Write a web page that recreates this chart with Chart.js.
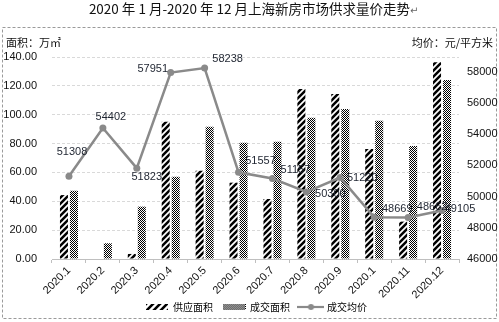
<!DOCTYPE html>
<html>
<head>
<meta charset="utf-8">
<script src="https://cdn.jsdelivr.net/npm/chart.js@4/dist/chart.umd.min.js"></script>
<style>
  html, body { margin: 0; padding: 0; background: #ffffff; }
  #wrap { width: 499px; height: 322px; }
</style>
</head>
<body>
<div id="wrap"><canvas id="c" width="499" height="322"></canvas></div>
<script>
// Months, area (10k m²) and average price (yuan per m²) for 2020
const months = ['2020.1', '2020.2', '2020.3', '2020.4', '2020.5', '2020.6',
                '2020.7', '2020.8', '2020.9', '2020.1', '2020.11', '2020.12'];
const supplyArea = [44.3, 0, 3.5, 95.2, 61.2, 52.9, 41.6, 117.8, 114.3, 76.2, 25.9, 136.3];
const dealArea   = [47.3, 10.9, 36.3, 57.0, 91.7, 80.6, 81.3, 97.9, 103.9, 95.8, 78.3, 124.0];
const avgPrice   = [51308, 54402, 51823, 57951, 58238, 51557, 51157, 50300, 51220, 48669, 48662, 49105];

// Axis ticks
const areaTicks  = [0, 20, 40, 60, 80, 100, 120, 140];
const priceTicks = [46000, 48000, 50000, 52000, 54000, 56000, 58000];

const seriesNames = ['供应面积', '成交面积', '成交均价'];
const titleText = '2020 年 1 月-2020 年 12 月上海新房市场供求量价走势';
const leftUnit = '面积：万㎡';
const rightUnit = '均价：元/平方米';

// Where each price label sits relative to its point (px)
const priceLabelOffsets = [[3, -24], [8, -11], [10, 9], [-18, -4], [23, -9], [22, -11],
                           [23, -9], [24, 2], [22, 0], [23, -8], [24, -11], [18, -2]];

const FONT = "'Liberation Sans', 'Noto Sans CJK SC', sans-serif";
const CJK = "'Noto Sans CJK SC', 'Liberation Sans', sans-serif";
const LINE_GREY = '#8a8a8a';

function makeHatch(period, width) {
  const c = document.createElement('canvas');
  c.width = period; c.height = period;
  const g = c.getContext('2d');
  g.fillStyle = '#ffffff';
  g.fillRect(0, 0, period, period);
  g.strokeStyle = '#000000';
  g.lineWidth = width;
  g.beginPath();
  g.moveTo(-2, period + 2); g.lineTo(period + 2, -2);
  g.moveTo(-2, 2); g.lineTo(2, -2);
  g.moveTo(period - 2, period + 2); g.lineTo(period + 2, period - 2);
  g.stroke();
  return c;
}
function makeChecker() {
  const c = document.createElement('canvas');
  c.width = 2; c.height = 2;
  const g = c.getContext('2d');
  g.fillStyle = '#ffffff';
  g.fillRect(0, 0, 2, 2);
  g.fillStyle = '#000000';
  g.fillRect(0, 0, 1, 1);
  g.fillRect(1, 1, 1, 1);
  return c;
}

const ctx = document.getElementById('c').getContext('2d');
const hatchPattern = ctx.createPattern(makeHatch(6, 2.5), 'repeat');
const checkerPattern = ctx.createPattern(makeChecker(), 'repeat');

// Legend swatches
function swatch(w, h, pattern) {
  const c = document.createElement('canvas');
  c.width = w; c.height = h;
  const g = c.getContext('2d');
  g.fillStyle = g.createPattern(pattern, 'repeat');
  g.fillRect(0, 0, w, h);
  return c;
}
function lineSwatch() {
  const c = document.createElement('canvas');
  c.width = 27; c.height = 8;
  const g = c.getContext('2d');
  g.strokeStyle = LINE_GREY;
  g.lineWidth = 2.2;
  g.beginPath(); g.moveTo(0, 4); g.lineTo(27, 4); g.stroke();
  g.fillStyle = LINE_GREY;
  g.beginPath(); g.arc(13.5, 4, 3, 0, Math.PI * 2); g.fill();
  return c;
}
const legendIcons = [swatch(22, 6, makeHatch(7, 2.6)), swatch(23, 6, makeChecker()), lineSwatch()];

// Title, unit captions and dashed frame; also widens the label clip areas
const framePlugin = {
  id: 'frame',
  afterLayout(chart) {
    chart.scales.x.bottom = chart.height;
    chart.scales.y.left = 0;
    chart.scales.y1.right = chart.width;
    if (chart.legend) { chart.legend.left += 7; chart.legend.right += 7; }
  },
  beforeDraw(chart) {
    const g = chart.ctx;
    g.save();
    g.fillStyle = '#ffffff';
    g.fillRect(0, 0, chart.width, chart.height);
    g.strokeStyle = '#9a9a9a';
    g.lineWidth = 1;
    g.setLineDash([3, 2]);
    g.strokeRect(2.5, 27.5, 494, 291);
    g.setLineDash([]);
    g.fillStyle = '#111111';
    g.textBaseline = 'middle';
    g.font = '13.5px ' + CJK;
    g.textAlign = 'center';
    g.fillText(titleText, 249.5, 9);
    const tw = g.measureText(titleText).width;
    g.font = '10px DejaVu Sans';
    g.fillStyle = '#666666';
    g.textAlign = 'left';
    g.fillText('↵', 249.5 + tw / 2, 11);
    g.fillStyle = '#111111';
    g.font = '11px ' + CJK;
    g.textAlign = 'left';
    g.fillText(leftUnit, 6, 42.5);
    g.textAlign = 'right';
    g.fillText(rightUnit, 493, 42.5);
    g.restore();
  }
};

// Value labels next to each price point
const priceLabelPlugin = {
  id: 'priceLabels',
  afterDatasetsDraw(chart) {
    const meta = chart.getDatasetMeta(2);
    const g = chart.ctx;
    g.save();
    g.font = '11px ' + FONT;
    g.fillStyle = '#1e2430';
    g.textAlign = 'center';
    g.textBaseline = 'middle';
    meta.data.forEach((pt, i) => {
      const [dx, dy] = priceLabelOffsets[i];
      g.fillText(String(avgPrice[i]), pt.x + dx, pt.y + dy);
    });
    g.restore();
  }
};

new Chart(ctx, {
  type: 'bar',
  data: {
    labels: months,
    datasets: [
      { label: seriesNames[0], data: supplyArea, backgroundColor: hatchPattern, borderWidth: 0,
        yAxisID: 'y', order: 1, categoryPercentage: 0.59, barPercentage: 0.8 },
      { label: seriesNames[1], data: dealArea, backgroundColor: checkerPattern, borderWidth: 0,
        yAxisID: 'y', order: 1, categoryPercentage: 0.59, barPercentage: 0.8 },
      { type: 'line', label: seriesNames[2], data: avgPrice, yAxisID: 'y1', order: 0,
        borderColor: LINE_GREY, backgroundColor: LINE_GREY, borderWidth: 2.5,
        pointRadius: 3.5, pointBackgroundColor: LINE_GREY, pointBorderWidth: 0,
        tension: 0, fill: false }
    ]
  },
  options: {
    responsive: false,
    animation: false,
    devicePixelRatio: 1,
    layout: { padding: { top: 57, left: 0, right: 0, bottom: 0 } },
    plugins: {
      title: { display: false },
      tooltip: { enabled: false },
      legend: {
        position: 'bottom',
        labels: {
          usePointStyle: true,
          pointStyleWidth: 22,
          boxHeight: 10,
          padding: 10,
          color: '#333333',
          font: { size: 10, family: CJK },
          generateLabels: chart => chart.data.datasets.map((ds, i) => ({
            text: ds.label, pointStyle: legendIcons[i], fillStyle: '#ffffff',
            strokeStyle: '#ffffff', lineWidth: 0, hidden: false, datasetIndex: i
          }))
        }
      }
    },
    scales: {
      x: {
        grid: { offset: true, drawOnChartArea: false, drawTicks: true, tickLength: 4, color: '#bfbfbf' },
        border: { display: true, color: '#bfbfbf', width: 1 },
        ticks: { minRotation: 45, maxRotation: 45, autoSkip: false, padding: 1,
                 color: '#111111', font: { size: 11, family: FONT } },
        afterFit: s => { s.height = 33; }
      },
      y: {
        position: 'left',
        min: areaTicks[0], max: areaTicks[areaTicks.length - 1],
        grid: { color: '#d9d9d9', drawTicks: false },
        border: { display: false, dash: [3, 2] },
        ticks: { autoSkip: false, padding: 15, color: '#111111', font: { size: 11, family: FONT },
                 callback: v => Number(v).toFixed(2) },
        afterBuildTicks: s => { s.ticks = areaTicks.map(v => ({ value: v })); },
        afterFit: s => { s.width = 52; }
      },
      y1: {
        position: 'right',
        min: 46000, max: 58950,
        grid: { display: false, drawTicks: false },
        border: { display: false },
        ticks: { autoSkip: false, padding: 8, color: '#111111',
                 font: { size: 11, family: FONT }, callback: v => String(v) },
        afterBuildTicks: s => { s.ticks = priceTicks.map(v => ({ value: v })); },
        afterFit: s => { s.width = 40; }
      }
    }
  },
  plugins: [framePlugin, priceLabelPlugin]
});
</script>
</body>
</html>
